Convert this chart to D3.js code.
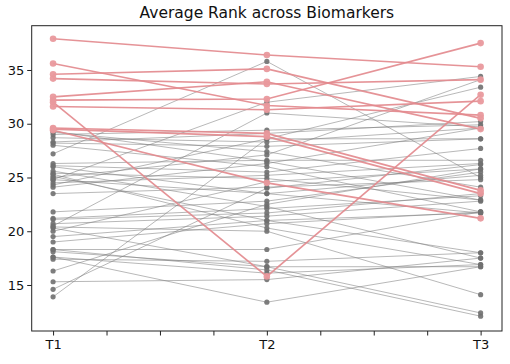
<!DOCTYPE html>
<html><head><meta charset="utf-8">
<script src="https://cdn.jsdelivr.net/npm/d3@7/dist/d3.min.js"></script>
<style>body{margin:0;background:#fff}svg{display:block}</style>
</head><body>
<script>
const categories = ["T1","T2","T3"];
const xTickValues = [0,0.25,0.5,0.75,1,1.25,1.5,1.75,2];
const yTickValues = [15,20,25,30,35];
const chartTitle = "Average Rank across Biomarkers";

// gray (background) series: value at T1, T2, T3
const grayT1 = [13.9,27.2,24.8,16.3,29.0,28.7,28.2,28.0,26.3,26.1,25.4,25.1,25.3,25.6,24.8,24.5,24.1,23.5,21.8,21.1,20.7,20.4,20.3,20.0,19.5,19.0,18.3,18.1,17.6,17.4,15.3,17.6,29.3,29.2,28.3,26.0,25.0,24.3,20.5,14.6,21.2,18.3];
const grayT2 = [28.6,35.8,32.0,22.5,29.4,28.3,27.9,26.0,26.6,25.5,24.9,21.0,20.3,22.3,23.5,25.2,26.3,24.1,22.8,21.7,21.4,20.0,16.7,24.6,21.0,20.7,16.4,16.7,16.1,17.2,15.5,13.4,26.5,27.4,29.1,23.5,27.1,28.6,31.0,24.0,22.1,18.3];
const grayT3 = [33.4,25.0,34.4,25.8,29.9,29.6,28.6,21.8,26.6,27.7,22.9,18.0,16.9,17.5,25.2,26.3,29.6,24.8,25.5,23.5,22.8,14.1,12.4,25.8,21.7,21.8,12.1,16.7,16.9,18.0,17.5,16.7,22.9,24.1,30.2,21.7,34.1,28.6,29.7,26.2,23.3,21.8];

// highlighted series
const pinkT1 = [37.9,35.6,34.6,34.2,32.5,32.2,32.0,31.6,29.6,29.4,29.5];
const pinkT2 = [36.4,31.7,35.1,33.7,33.9,32.3,15.8,31.3,29.1,24.5,28.8];
const pinkT3 = [35.3,30.8,30.5,34.1,29.5,37.5,32.7,32.1,23.8,21.2,23.5];

const W = 510, H = 364;
const svg = d3.select("body").append("svg").attr("width", W).attr("height", H);
const L = 31.7, R = 502, T = 25.7, B = 331;

const x = d3.scaleLinear().domain([-0.1, 2.1]).range([L, R]);
const y = d3.scaleLinear().domain([10.72, 39.12]).range([B, T]);
const font = "DejaVu Sans, sans-serif";

const grayData = grayT1.map((v,i) => [v, grayT2[i], grayT3[i]]);
const pinkData = pinkT1.map((v,i) => [v, pinkT2[i], pinkT3[i]]);
const line = d3.line().x((d,i) => x(i)).y(d => y(d));

const g = svg.append("g");
g.selectAll("path.gray").data(grayData).enter().append("path")
  .attr("d", line).attr("fill","none").attr("stroke","#808080")
  .attr("stroke-opacity",0.7).attr("stroke-width",0.8);
grayData.forEach(s => {
  g.selectAll(null).data(s).enter().append("circle")
    .attr("cx",(d,i)=>x(i)).attr("cy",d=>y(d)).attr("r",2.6)
    .attr("fill","#707070").attr("fill-opacity",0.9);
});
g.selectAll("path.pink").data(pinkData).enter().append("path")
  .attr("d", line).attr("fill","none").attr("stroke","#e38a8e")
  .attr("stroke-opacity",0.92).attr("stroke-width",1.6);
pinkData.forEach(s => {
  g.selectAll(null).data(s).enter().append("circle")
    .attr("cx",(d,i)=>x(i)).attr("cy",d=>y(d)).attr("r",3.3)
    .attr("fill","#e9999d").attr("fill-opacity",0.95);
});

// frame
svg.append("rect").attr("x",L).attr("y",T).attr("width",R-L).attr("height",B-T)
  .attr("fill","none").attr("stroke","#222").attr("stroke-width",1);

// axes
const xAxis = d3.axisBottom(x).tickValues(xTickValues).tickSize(4.5).tickPadding(4)
  .tickFormat(d => Number.isInteger(d) ? categories[d] : "");
const xa = svg.append("g").attr("transform",`translate(0,${B})`).call(xAxis);
const yAxis = d3.axisLeft(y).tickValues(yTickValues).tickSize(4.5).tickPadding(3);
const ya = svg.append("g").attr("transform",`translate(${L},0)`).call(yAxis);
[xa, ya].forEach(a => {
  a.select(".domain").remove();
  a.selectAll(".tick line").attr("stroke","#222").attr("stroke-width",1);
  a.selectAll(".tick text").attr("fill","#111").style("font-family",font).style("font-size","13px");
});

svg.append("text").attr("x",(L+R)/2).attr("y",18).attr("text-anchor","middle")
  .style("font-family",font).style("font-size","15.5px").attr("fill","#111").text(chartTitle);
</script>
</body></html>
